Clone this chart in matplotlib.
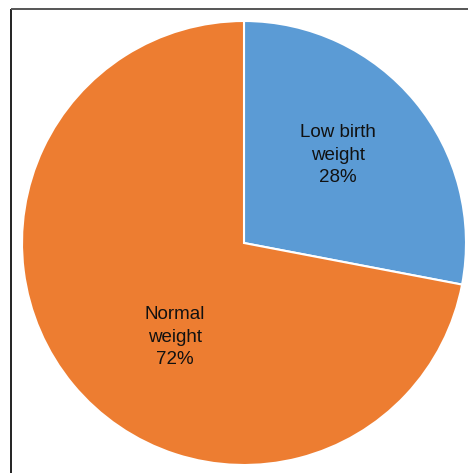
import matplotlib
matplotlib.use("Agg")
import matplotlib.pyplot as plt

categories = ["Low birth\nweight", "Normal\nweight"]
shares = [28, 72]
colors = ["#5B9BD5", "#ED7D31"]

W, H = 468, 473
fig = plt.figure(figsize=(W / 100, H / 100), dpi=100)
ax = fig.add_axes([0, 0, 1, 1])

# pie in pixel-like units so the layout is easy to place
cx, cy, r = 244, H - 243, 222
ax.pie(shares, colors=colors, startangle=90, counterclock=False,
       center=(cx, cy), radius=r,
       wedgeprops=dict(edgecolor="white", linewidth=1.5))
ax.set_xlim(0, W)
ax.set_ylim(0, H)
ax.set_aspect("equal")
ax.axis("off")

label_pos = [(338, H - 155), (175, H - 337)]
for name, val, (x, y) in zip(categories, shares, label_pos):
    ax.text(x, y, f"{name}\n{val}%", ha="center", va="center",
            fontsize=13.5, family="Liberation Sans", linespacing=1.45,
            color="#111111")

# frame lines on the left and top
ax.plot([11, 11], [0, H - 9], color="#222222", lw=1.4, solid_capstyle="butt")
ax.plot([11, W], [H - 8.5, H - 8.5], color="#555555", lw=1.4, solid_capstyle="butt")

fig.savefig("out.png", dpi=100)
